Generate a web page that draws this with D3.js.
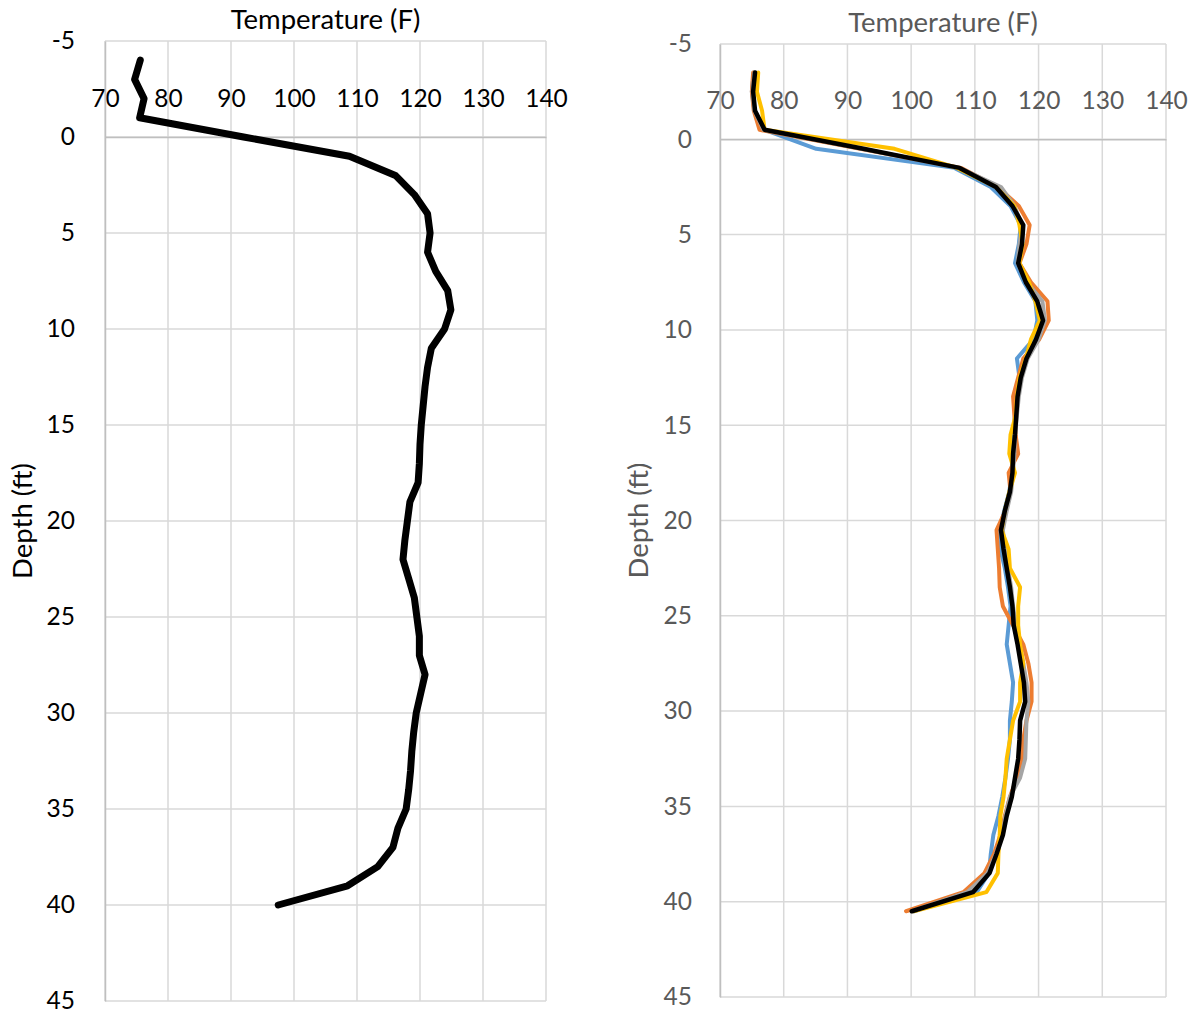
<!DOCTYPE html>
<html>
<head>
<meta charset="utf-8">
<script src="https://cdn.jsdelivr.net/npm/d3@7"></script>
<style>
  html, body { margin: 0; padding: 0; background: #fff; }
  svg { display: block; }
  text { font-family: Lato, "Open Sans", sans-serif; }
</style>
</head>
<body>
<svg id="chart" width="1197" height="1017"></svg>
<script>
// ---------------- DATA ----------------
const tempTicks = [70, 80, 90, 100, 110, 120, 130, 140];
const depthTicks = [-5, 0, 5, 10, 15, 20, 25, 30, 35, 40, 45];
const xTitle = "Temperature (F)";
const yTitle = "Depth (ft)";

// Left chart: single averaged profile
const leftDepth = [-4, -3, -2, -1, 0, 1, 2, 3, 4, 5, 6, 7, 8, 9, 10, 11, 12, 13, 14, 15, 16, 17, 18, 19, 20,
  21, 22, 23, 24, 25, 26, 27, 28, 29, 30, 31, 32, 33, 34, 35, 36, 37, 38, 39, 40];
const leftTemp = [75.6, 74.7, 76.2, 75.5, 92.0, 108.8, 116.1, 119.1, 121.2, 121.6, 121.2, 122.5, 124.4, 124.9, 123.9,
  121.8, 121.2, 120.8, 120.5, 120.2, 120.0, 119.9, 119.7, 118.4, 118.0, 117.6, 117.3, 118.2, 119.1, 119.5, 119.9,
  119.9, 120.8, 120.1, 119.4, 119.0, 118.7, 118.5, 118.2, 117.8, 116.5, 115.7, 113.3, 108.5, 97.5];

// Right chart: individual profiles
const rightDepth = [-3.5, -2.5, -1.5, -0.5, 0.5, 1.5, 2.5, 3.5, 4.5, 5.5, 6.5, 7.5, 8.5, 9.5, 10.5, 11.5, 12.5,
  13.5, 14.5, 15.5, 16.5, 17.5, 18.5, 19.5, 20.5, 21.5, 22.5, 23.5, 24.5, 25.5, 26.5, 27.5, 28.5, 29.5, 30.5,
  31.5, 32.5, 33.5, 34.5, 35.5, 36.5, 37.5, 38.5, 39.5, 40.5];
const seriesBlue = [75.3, 75.0, 75.4, 77.0, 85.1, 106.8, 112.5, 115.6, 117.2, 116.9, 116.3, 117.7, 119.5, 119.8,
  119.2, 116.6, 117.0, 116.5, 116.3, 116.1, 115.9, 115.8, 115.4, 114.6, 113.9, 114.0, 114.7, 115.2, 115.6, 115.3,
  115.0, 115.5, 116.0, 115.8, 115.5, 115.5, 115.2, 114.8, 114.3, 113.7, 112.9, 112.5, 112.2, 110.3, 100.4];
const seriesOrange = [75.2, 75.0, 75.3, 76.2, 92.0, 107.8, 113.6, 116.9, 118.6, 118.1, 117.0, 118.8, 121.4, 121.6,
  120.1, 117.6, 116.8, 116.0, 116.2, 116.4, 116.8, 115.3, 115.6, 114.8, 113.4, 113.6, 113.8, 113.9, 114.4, 116.0,
  117.6, 118.4, 118.9, 118.9, 118.1, 117.6, 117.4, 116.6, 115.5, 114.7, 114.0, 113.0, 111.5, 108.2, 99.2];
const seriesGray = [75.4, 75.1, 75.4, 76.8, 92.3, 107.5, 114.1, 116.2, 117.4, 117.0, 116.7, 118.2, 120.6, 121.0,
  120.0, 118.3, 117.4, 116.9, 116.6, 116.3, 116.2, 116.0, 115.7, 115.0, 114.4, 114.7, 115.2, 115.7, 116.0, 116.4,
  117.0, 117.6, 118.1, 118.4, 118.1, 118.0, 117.9, 117.1, 115.5, 114.8, 114.3, 113.3, 112.0, 108.8, 100.1];
const seriesYellow = [76.0, 75.8, 76.6, 77.0, 97.4, 107.2, 113.3, 116.2, 117.0, 117.5, 117.0, 118.5, 119.5, 120.2,
  118.8, 118.0, 117.0, 116.6, 116.4, 115.6, 115.4, 116.3, 115.4, 114.7, 114.2, 115.3, 115.5, 117.1, 116.8, 116.8,
  117.1, 117.6, 117.1, 117.1, 116.0, 115.5, 115.0, 114.8, 114.5, 114.0, 113.9, 113.7, 113.6, 111.8, 100.4];
const seriesBlack = [75.5, 75.2, 75.5, 77.0, 92.5, 107.6, 113.3, 115.9, 117.6, 117.4, 116.8, 118.0, 119.8, 120.7,
  119.6, 118.1, 117.2, 116.7, 116.5, 116.3, 116.0, 115.9, 115.5, 114.7, 114.1, 114.5, 115.0, 115.5, 115.9, 116.1,
  116.7, 117.2, 117.7, 117.9, 117.1, 117.0, 116.8, 116.3, 115.8, 115.0, 114.4, 113.4, 112.3, 109.7, 100.1];

// ---------------- DRAW ----------------
const svg = d3.select("#chart");

function drawPanel(cfg) {
  const g = svg.append("g");
  const x = d3.scaleLinear().domain([70, 140]).range([cfg.x0, cfg.x1]);
  const y = d3.scaleLinear().domain([-5, 45]).range([cfg.y0, cfg.y1]);

  // gridlines
  g.append("g").selectAll("line").data(tempTicks).join("line")
    .attr("x1", d => x(d)).attr("x2", d => x(d))
    .attr("y1", y(-5)).attr("y2", y(45))
    .attr("stroke", "#d9d9d9").attr("stroke-width", 1.5);
  g.append("g").selectAll("line").data(depthTicks).join("line")
    .attr("x1", x(70)).attr("x2", x(140))
    .attr("y1", d => y(d)).attr("y2", d => y(d))
    .attr("stroke", "#d9d9d9").attr("stroke-width", 1.5);

  const fmt = d => String(d);
  // value axis sits at depth 0, depth axis at 70
  const xAxis = d3.axisTop(x).tickValues(tempTicks).tickSize(0).tickPadding(cfg.xLabelPad).tickFormat(fmt);
  const xa = g.append("g").attr("transform", `translate(0,${y(0)})`).call(xAxis);
  xa.select(".domain").attr("stroke", "#bfbfbf").attr("stroke-width", 1.5);
  xa.selectAll("text").attr("font-size", cfg.fs).attr("fill", cfg.textColor)
    .attr("font-family", "Lato, sans-serif");

  const yAxis = d3.axisLeft(y).tickValues(depthTicks).tickSize(0).tickPadding(cfg.yLabelPad).tickFormat(fmt);
  const ya = g.append("g").attr("transform", `translate(${x(70)},0)`).call(yAxis);
  ya.select(".domain").attr("stroke", "#bfbfbf").attr("stroke-width", 1.5);
  ya.selectAll("text").attr("font-size", cfg.fs).attr("fill", cfg.textColor)
    .attr("font-family", "Lato, sans-serif");

  // titles
  g.append("text").attr("x", (x(70) + x(140)) / 2).attr("y", cfg.titleY)
    .attr("text-anchor", "middle").attr("font-size", cfg.tfs).attr("fill", cfg.textColor).text(xTitle);
  g.append("text").attr("transform", `translate(${cfg.yTitleX},${(y(-5) + y(45)) / 2}) rotate(-90)`)
    .attr("text-anchor", "middle").attr("font-size", cfg.tfs).attr("fill", cfg.textColor).text(yTitle);

  // lines
  cfg.series.forEach(s => {
    const pts = s.temps.map((t, i) => [t, s.depths[i]]);
    const line = d3.line().x(d => x(d[0])).y(d => y(d[1]));
    g.append("path").datum(pts).attr("d", line)
      .attr("fill", "none").attr("stroke", s.color).attr("stroke-width", s.width)
      .attr("stroke-linejoin", "round").attr("stroke-linecap", "round");
  });
}

drawPanel({
  x0: 105, x1: 546, y0: 41, y1: 1001,
  fs: 24.5, tfs: 27.5, textColor: "#000", xLabelPad: 30, yLabelPad: 30, titleY: 29, yTitleX: 32,
  series: [{ depths: leftDepth, temps: leftTemp, color: "#000", width: 7 }]
});

drawPanel({
  x0: 720, x1: 1166, y0: 44, y1: 997,
  fs: 24.5, tfs: 27.5, textColor: "#595959", xLabelPad: 30, yLabelPad: 28, titleY: 32, yTitleX: 648,
  series: [
    { depths: rightDepth, temps: seriesBlue, color: "#5b9bd5", width: 4 },
    { depths: rightDepth, temps: seriesOrange, color: "#ed7d31", width: 4 },
    { depths: rightDepth, temps: seriesGray, color: "#a5a5a5", width: 4 },
    { depths: rightDepth, temps: seriesYellow, color: "#ffc000", width: 4 },
    { depths: rightDepth, temps: seriesBlack, color: "#000", width: 4.5 }
  ]
});
</script>
</body>
</html>
